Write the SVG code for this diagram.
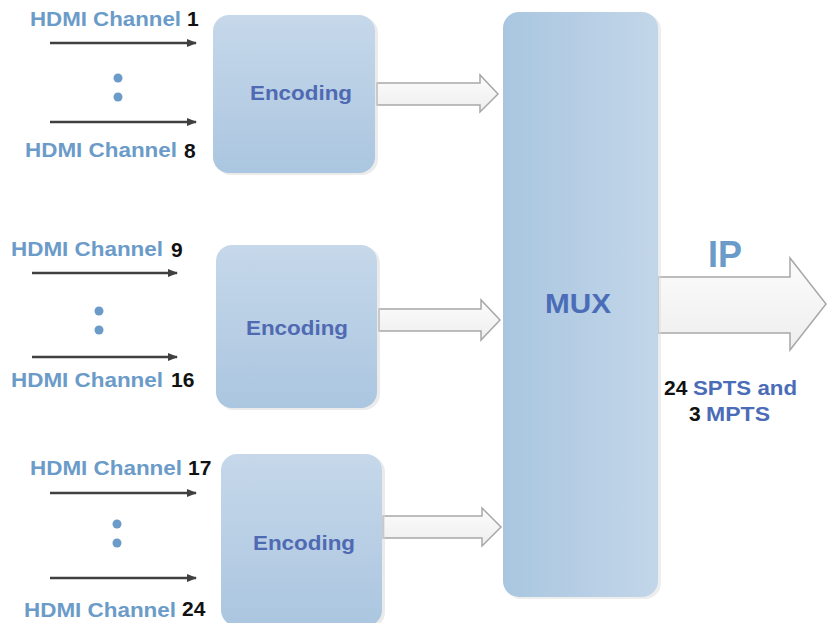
<svg xmlns="http://www.w3.org/2000/svg" width="827" height="623" viewBox="0 0 827 623">
<defs>
<linearGradient id="encGrad" x1="0" y1="0" x2="0" y2="1">
<stop offset="0" stop-color="#c6d8ea"/>
<stop offset="1" stop-color="#abc6e0"/>
</linearGradient>
<linearGradient id="muxGrad" x1="0" y1="0" x2="1" y2="0">
<stop offset="0" stop-color="#a9c6e0"/>
<stop offset="1" stop-color="#c3d6e9"/>
</linearGradient>
<linearGradient id="arrGrad" x1="0" y1="0" x2="0" y2="1">
<stop offset="0" stop-color="#fcfcfc"/>
<stop offset="1" stop-color="#eeeeee"/>
</linearGradient>
<marker id="ah" markerWidth="10" markerHeight="8" refX="9" refY="4" orient="auto" markerUnits="userSpaceOnUse">
<path d="M0,0 L10,4 L0,8 Z" fill="#404040"/>
</marker>
<style>
.hdmi{font-family:"Liberation Sans",Arial,sans-serif;font-weight:bold;font-size:20px;fill:#6b9bc8}
.num{font-family:"Liberation Sans",Arial,sans-serif;font-weight:bold;font-size:21px;fill:#111}
.enc{font-family:"Liberation Sans",Arial,sans-serif;font-weight:bold;font-size:20px;fill:#4f6ab2;text-anchor:middle}
.box{fill:url(#encGrad)}
.shadow{fill:#d8d8d8;opacity:0.5}
.line{stroke:#404040;stroke-width:2.5;fill:none}
.dot{fill:#6b9bc8}
.blk{fill:url(#arrGrad);stroke:#a8a8a8;stroke-width:1.5}
</style>
</defs>
<rect width="827" height="623" fill="#ffffff"/>

<g id="connectors">
<line class="line" x1="50" y1="43" x2="196" y2="43" marker-end="url(#ah)"/>
<line class="line" x1="50" y1="122" x2="196" y2="122" marker-end="url(#ah)"/>
<line class="line" x1="32" y1="273" x2="177" y2="273" marker-end="url(#ah)"/>
<line class="line" x1="32" y1="357" x2="177" y2="357" marker-end="url(#ah)"/>
<line class="line" x1="50" y1="493" x2="196" y2="493" marker-end="url(#ah)"/>
<line class="line" x1="50" y1="578" x2="196" y2="578" marker-end="url(#ah)"/>
<path class="blk" d="M377,83 L480,83 L480,75 L498,94 L480,112 L480,105 L377,105 Z"/>
<path class="blk" d="M379,309 L481,309 L481,300 L500,320 L481,340 L481,331 L379,331 Z"/>
<path class="blk" d="M383,516 L482,516 L482,508 L501,527 L482,546 L482,538 L383,538 Z"/>
<path class="blk" d="M658,277 L790,277 L790,258 L826,304 L790,350 L790,333 L658,333 Z"/>
</g>

<g id="inputs1">
<text class="hdmi" x="30" y="26" textLength="151" lengthAdjust="spacingAndGlyphs">HDMI Channel</text>
<text class="num" x="187" y="26">1</text>
<circle class="dot" cx="118" cy="78" r="4.5"/>
<circle class="dot" cx="118" cy="97" r="4.5"/>
<text class="hdmi" x="25" y="157" textLength="152" lengthAdjust="spacingAndGlyphs">HDMI Channel</text>
<text class="num" x="184" y="158">8</text>
</g>

<g id="inputs2">
<text class="hdmi" x="11" y="256" textLength="152" lengthAdjust="spacingAndGlyphs">HDMI Channel</text>
<text class="num" x="171" y="257">9</text>
<circle class="dot" cx="99" cy="311" r="4.5"/>
<circle class="dot" cx="99" cy="330" r="4.5"/>
<text class="hdmi" x="11" y="387" textLength="152" lengthAdjust="spacingAndGlyphs">HDMI Channel</text>
<text class="num" x="171" y="387">16</text>
</g>

<g id="inputs3">
<text class="hdmi" x="30" y="475" textLength="152" lengthAdjust="spacingAndGlyphs">HDMI Channel</text>
<text class="num" x="188" y="475">17</text>
<circle class="dot" cx="117" cy="524" r="4.5"/>
<circle class="dot" cx="117" cy="543" r="4.5"/>
<text class="hdmi" x="24" y="617" textLength="152" lengthAdjust="spacingAndGlyphs">HDMI Channel</text>
<text class="num" x="182" y="616">24</text>
</g>

<g id="encoding1">
<rect class="shadow" x="215" y="17" width="163" height="158" rx="16"/>
<rect class="box" x="213" y="15" width="162" height="158" rx="16"/>
<text class="enc" x="301" y="100" textLength="102" lengthAdjust="spacingAndGlyphs">Encoding</text>
</g>

<g id="encoding2">
<rect class="shadow" x="218" y="247" width="162" height="163" rx="16"/>
<rect class="box" x="216" y="245" width="161" height="163" rx="16"/>
<text class="enc" x="297" y="335" textLength="102" lengthAdjust="spacingAndGlyphs">Encoding</text>
</g>

<g id="encoding3">
<rect class="shadow" x="223" y="456" width="162" height="172" rx="16"/>
<rect class="box" x="221" y="454" width="161" height="172" rx="16"/>
<text class="enc" x="304" y="550" textLength="102" lengthAdjust="spacingAndGlyphs">Encoding</text>
</g>

<g id="mux">
<rect x="505" y="14" width="156" height="585" rx="16" fill="#dcdcdc" opacity="0.5"/>
<rect x="503" y="12" width="155" height="585" rx="16" fill="url(#muxGrad)"/>
<text x="578" y="313" text-anchor="middle" font-family="Liberation Sans, Arial, sans-serif" font-weight="bold" font-size="27" fill="#4b6cb7" textLength="66" lengthAdjust="spacingAndGlyphs">MUX</text>
</g>

<g id="output">
<text x="708" y="267" font-family="Liberation Sans, Arial, sans-serif" font-weight="bold" font-size="36" fill="#6b9bc8" textLength="34" lengthAdjust="spacingAndGlyphs">IP</text>
<text x="664" y="395" class="num">24</text>
<text x="693" y="395" font-family="Liberation Sans, Arial, sans-serif" font-weight="bold" font-size="21" fill="#4b6cb7" textLength="104" lengthAdjust="spacingAndGlyphs">SPTS and</text>
<text x="689" y="421" class="num">3</text>
<text x="706" y="421" font-family="Liberation Sans, Arial, sans-serif" font-weight="bold" font-size="21" fill="#4b6cb7" textLength="64" lengthAdjust="spacingAndGlyphs">MPTS</text>
</g>
</svg>
